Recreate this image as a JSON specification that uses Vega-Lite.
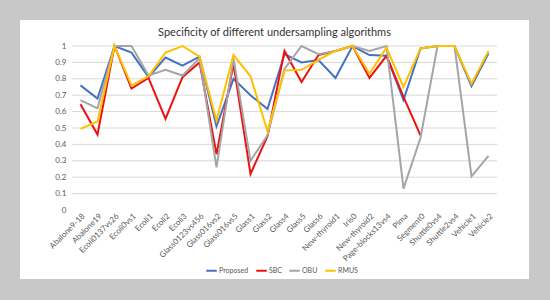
{
  "$schema": "https://vega.github.io/schema/vega-lite/v6.json",
  "autosize": {"type": "none"},
  "width": 425,
  "height": 164,
  "padding": {"left": 72, "top": 46, "right": 53, "bottom": 90},
  "background": "white",
  "title": {
    "text": "Specificity of different undersampling algorithms",
    "font": "Lato",
    "fontSize": 11,
    "fontWeight": "normal",
    "color": "#333333",
    "anchor": "middle",
    "frame": "group",
    "dx": -10,
    "offset": -39
  },
  "config": {
    "view": {"stroke": null},
    "axis": {"labelFont": "Lato", "labelColor": "#595959"},
    "axisY": {
      "title": null,
      "format": "~g",
      "labelFontSize": 8,
      "labelPadding": 6,
      "labelOverlap": false,
      "labelBound": false,
      "domain": false,
      "ticks": false,
      "grid": false
    },
    "legend": {"labelFont": "Lato", "labelColor": "#595959"}
  },
  "resolve": {"scale": {"x": "independent"}},
  "layer": [
    {
      "data": {"values": [{"item": "frame"}]},
      "mark": {"type": "rect", "filled": false, "stroke": "#c8c8c8", "strokeWidth": 21},
      "encoding": {
        "x": {"datum": -0.14706, "type": "quantitative", "scale": {"domain": [0, 1], "nice": false, "zero": false}, "axis": null},
        "x2": {"datum": 1.1},
        "y": {"datum": 1.22256, "type": "quantitative", "scale": {"domain": [0, 1], "nice": false}, "axis": {"values": [0, 0.1, 0.2, 0.3, 0.4, 0.5, 0.6, 0.7, 0.8, 0.9, 1], "grid": false}},
        "y2": {"datum": -0.48476}
      }
    },
    {
      "data": {"values": [
        {"gridline": 0.1}, {"gridline": 0.2}, {"gridline": 0.3}, {"gridline": 0.4}, {"gridline": 0.5},
        {"gridline": 0.6}, {"gridline": 0.7}, {"gridline": 0.8}, {"gridline": 0.9}, {"gridline": 1.0}
      ]},
      "mark": {"type": "rule", "color": "#d9d9d9", "strokeWidth": 1},
      "encoding": {
        "y": {"field": "gridline", "type": "quantitative", "scale": {"domain": [0, 1], "nice": false}, "axis": {"values": [0, 0.1, 0.2, 0.3, 0.4, 0.5, 0.6, 0.7, 0.8, 0.9, 1], "grid": false}}
      }
    },
    {
      "data": {"values": [
        {"dataset": "Abalone9-18", "algorithm": "Proposed", "specificity": 0.76},
        {"dataset": "Abalone19", "algorithm": "Proposed", "specificity": 0.68},
        {"dataset": "Ecoli0137vs26", "algorithm": "Proposed", "specificity": 1.0},
        {"dataset": "Ecoli0vs1", "algorithm": "Proposed", "specificity": 0.96},
        {"dataset": "Ecoli1", "algorithm": "Proposed", "specificity": 0.81},
        {"dataset": "Ecoli2", "algorithm": "Proposed", "specificity": 0.93},
        {"dataset": "Ecoli3", "algorithm": "Proposed", "specificity": 0.88},
        {"dataset": "Glass0123vs456", "algorithm": "Proposed", "specificity": 0.935},
        {"dataset": "Glass016vs2", "algorithm": "Proposed", "specificity": 0.51},
        {"dataset": "Glass016vs5", "algorithm": "Proposed", "specificity": 0.80},
        {"dataset": "Glass1", "algorithm": "Proposed", "specificity": 0.70},
        {"dataset": "Glass2", "algorithm": "Proposed", "specificity": 0.615},
        {"dataset": "Glass4", "algorithm": "Proposed", "specificity": 0.95},
        {"dataset": "Glass5", "algorithm": "Proposed", "specificity": 0.90},
        {"dataset": "Glass6", "algorithm": "Proposed", "specificity": 0.915},
        {"dataset": "New-thyroid1", "algorithm": "Proposed", "specificity": 0.805},
        {"dataset": "Iris0", "algorithm": "Proposed", "specificity": 1.0},
        {"dataset": "New-thyroid2", "algorithm": "Proposed", "specificity": 0.945},
        {"dataset": "Page-blocks13vs4", "algorithm": "Proposed", "specificity": 0.94},
        {"dataset": "Pima", "algorithm": "Proposed", "specificity": 0.67},
        {"dataset": "Segment0", "algorithm": "Proposed", "specificity": 0.985},
        {"dataset": "Shuttle0vs4", "algorithm": "Proposed", "specificity": 1.0},
        {"dataset": "Shuttle2vs4", "algorithm": "Proposed", "specificity": 1.0},
        {"dataset": "Vehicle1", "algorithm": "Proposed", "specificity": 0.755},
        {"dataset": "Vehicle2", "algorithm": "Proposed", "specificity": 0.955},

        {"dataset": "Abalone9-18", "algorithm": "SBC", "specificity": 0.645},
        {"dataset": "Abalone19", "algorithm": "SBC", "specificity": 0.46},
        {"dataset": "Ecoli0137vs26", "algorithm": "SBC", "specificity": 1.0},
        {"dataset": "Ecoli0vs1", "algorithm": "SBC", "specificity": 0.74},
        {"dataset": "Ecoli1", "algorithm": "SBC", "specificity": 0.805},
        {"dataset": "Ecoli2", "algorithm": "SBC", "specificity": 0.555},
        {"dataset": "Ecoli3", "algorithm": "SBC", "specificity": 0.81},
        {"dataset": "Glass0123vs456", "algorithm": "SBC", "specificity": 0.90},
        {"dataset": "Glass016vs2", "algorithm": "SBC", "specificity": 0.34},
        {"dataset": "Glass016vs5", "algorithm": "SBC", "specificity": 0.89},
        {"dataset": "Glass1", "algorithm": "SBC", "specificity": 0.22},
        {"dataset": "Glass2", "algorithm": "SBC", "specificity": 0.45},
        {"dataset": "Glass4", "algorithm": "SBC", "specificity": 0.97},
        {"dataset": "Glass5", "algorithm": "SBC", "specificity": 0.78},
        {"dataset": "Glass6", "algorithm": "SBC", "specificity": 0.945},
        {"dataset": "New-thyroid1", "algorithm": "SBC", "specificity": 0.97},
        {"dataset": "Iris0", "algorithm": "SBC", "specificity": 1.0},
        {"dataset": "New-thyroid2", "algorithm": "SBC", "specificity": 0.805},
        {"dataset": "Page-blocks13vs4", "algorithm": "SBC", "specificity": 0.94},
        {"dataset": "Pima", "algorithm": "SBC", "specificity": 0.69},
        {"dataset": "Segment0", "algorithm": "SBC", "specificity": 0.455},

        {"dataset": "Abalone9-18", "algorithm": "OBU", "specificity": 0.67},
        {"dataset": "Abalone19", "algorithm": "OBU", "specificity": 0.62},
        {"dataset": "Ecoli0137vs26", "algorithm": "OBU", "specificity": 1.0},
        {"dataset": "Ecoli0vs1", "algorithm": "OBU", "specificity": 1.0},
        {"dataset": "Ecoli1", "algorithm": "OBU", "specificity": 0.82},
        {"dataset": "Ecoli2", "algorithm": "OBU", "specificity": 0.855},
        {"dataset": "Ecoli3", "algorithm": "OBU", "specificity": 0.82},
        {"dataset": "Glass0123vs456", "algorithm": "OBU", "specificity": 0.925},
        {"dataset": "Glass016vs2", "algorithm": "OBU", "specificity": 0.26},
        {"dataset": "Glass016vs5", "algorithm": "OBU", "specificity": 0.925},
        {"dataset": "Glass1", "algorithm": "OBU", "specificity": 0.30},
        {"dataset": "Glass2", "algorithm": "OBU", "specificity": 0.455},
        {"dataset": "Glass4", "algorithm": "OBU", "specificity": 0.86},
        {"dataset": "Glass5", "algorithm": "OBU", "specificity": 1.0},
        {"dataset": "Glass6", "algorithm": "OBU", "specificity": 0.95},
        {"dataset": "New-thyroid1", "algorithm": "OBU", "specificity": 0.97},
        {"dataset": "Iris0", "algorithm": "OBU", "specificity": 1.0},
        {"dataset": "New-thyroid2", "algorithm": "OBU", "specificity": 0.97},
        {"dataset": "Page-blocks13vs4", "algorithm": "OBU", "specificity": 1.0},
        {"dataset": "Pima", "algorithm": "OBU", "specificity": 0.13},
        {"dataset": "Segment0", "algorithm": "OBU", "specificity": 0.44},
        {"dataset": "Shuttle0vs4", "algorithm": "OBU", "specificity": 1.0},
        {"dataset": "Shuttle2vs4", "algorithm": "OBU", "specificity": 1.0},
        {"dataset": "Vehicle1", "algorithm": "OBU", "specificity": 0.205},
        {"dataset": "Vehicle2", "algorithm": "OBU", "specificity": 0.33},

        {"dataset": "Abalone9-18", "algorithm": "RMUS", "specificity": 0.495},
        {"dataset": "Abalone19", "algorithm": "RMUS", "specificity": 0.54},
        {"dataset": "Ecoli0137vs26", "algorithm": "RMUS", "specificity": 1.0},
        {"dataset": "Ecoli0vs1", "algorithm": "RMUS", "specificity": 0.76},
        {"dataset": "Ecoli1", "algorithm": "RMUS", "specificity": 0.815},
        {"dataset": "Ecoli2", "algorithm": "RMUS", "specificity": 0.96},
        {"dataset": "Ecoli3", "algorithm": "RMUS", "specificity": 1.0},
        {"dataset": "Glass0123vs456", "algorithm": "RMUS", "specificity": 0.935},
        {"dataset": "Glass016vs2", "algorithm": "RMUS", "specificity": 0.545},
        {"dataset": "Glass016vs5", "algorithm": "RMUS", "specificity": 0.945},
        {"dataset": "Glass1", "algorithm": "RMUS", "specificity": 0.815},
        {"dataset": "Glass2", "algorithm": "RMUS", "specificity": 0.48},
        {"dataset": "Glass4", "algorithm": "RMUS", "specificity": 0.85},
        {"dataset": "Glass5", "algorithm": "RMUS", "specificity": 0.855},
        {"dataset": "Glass6", "algorithm": "RMUS", "specificity": 0.915},
        {"dataset": "New-thyroid1", "algorithm": "RMUS", "specificity": 0.97},
        {"dataset": "Iris0", "algorithm": "RMUS", "specificity": 1.0},
        {"dataset": "New-thyroid2", "algorithm": "RMUS", "specificity": 0.83},
        {"dataset": "Page-blocks13vs4", "algorithm": "RMUS", "specificity": 0.99},
        {"dataset": "Pima", "algorithm": "RMUS", "specificity": 0.75},
        {"dataset": "Segment0", "algorithm": "RMUS", "specificity": 0.985},
        {"dataset": "Shuttle0vs4", "algorithm": "RMUS", "specificity": 1.0},
        {"dataset": "Shuttle2vs4", "algorithm": "RMUS", "specificity": 1.0},
        {"dataset": "Vehicle1", "algorithm": "RMUS", "specificity": 0.77},
        {"dataset": "Vehicle2", "algorithm": "RMUS", "specificity": 0.97}
      ]},
      "mark": {"type": "line", "strokeWidth": 2},
      "encoding": {
        "x": {
          "field": "dataset",
          "type": "nominal",
          "sort": null,
          "scale": {"type": "point", "padding": 0.5},
          "axis": {
            "title": null,
            "labelAngle": -45,
            "labelFontSize": 8,
            "labelPadding": 2,
            "labelOverlap": false,
            "domain": false,
            "ticks": false,
            "grid": false
          }
        },
        "y": {
          "field": "specificity",
          "type": "quantitative",
          "scale": {"domain": [0, 1], "nice": false},
          "axis": {"values": [0, 0.1, 0.2, 0.3, 0.4, 0.5, 0.6, 0.7, 0.8, 0.9, 1], "grid": false}
        },
        "color": {
          "field": "algorithm",
          "type": "nominal",
          "sort": ["Proposed", "SBC", "OBU", "RMUS"],
          "scale": {"domain": ["Proposed", "SBC", "OBU", "RMUS"], "range": ["#4472C4", "#EE1111", "#A5A5A5", "#FFC000"]},
          "legend": {
            "title": null,
            "orient": "none",
            "direction": "horizontal",
            "legendX": 133,
            "legendY": 218,
            "symbolType": "stroke",
            "symbolStrokeWidth": 2,
            "symbolSize": 110,
            "labelFontSize": 7,
            "labelOffset": 1,
            "columnPadding": 3
          }
        }
      }
    }
  ]
}
